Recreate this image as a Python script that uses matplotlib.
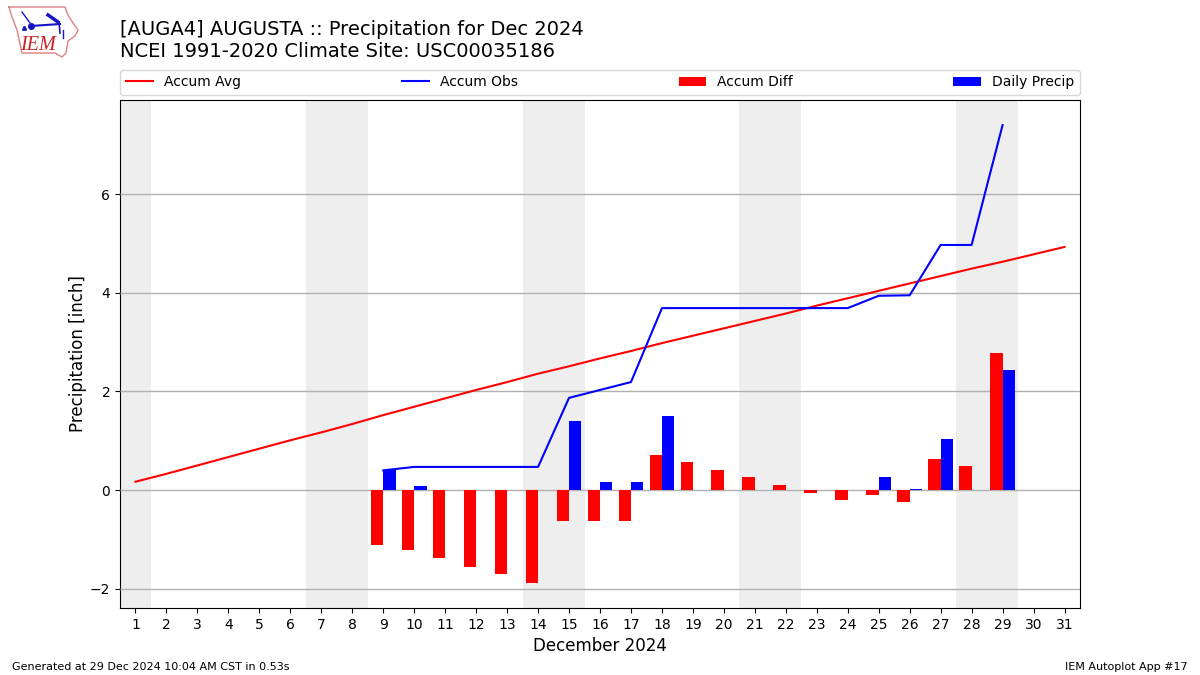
import numpy as np
import matplotlib
matplotlib.use('Agg')
import matplotlib.pyplot as plt

# Values
DAYS = list(range(1, 32))
ACCUM_AVG = [0.17, 0.33, 0.50, 0.67, 0.84, 1.01, 1.17, 1.34, 1.52, 1.69, 1.86,
             2.03, 2.19, 2.36, 2.51, 2.67, 2.82, 2.98, 3.13, 3.28, 3.43, 3.58,
             3.74, 3.89, 4.04, 4.19, 4.34, 4.49, 4.63, 4.78, 4.93]
OBS_DAYS = list(range(9, 30))
ACCUM_OBS = [0.40, 0.47, 0.47, 0.47, 0.47, 0.47, 1.87, 2.03, 2.19, 3.69, 3.69,
             3.69, 3.69, 3.69, 3.69, 3.69, 3.94, 3.95, 4.97, 4.97, 7.40]
ACCUM_DIFF = [-1.12, -1.22, -1.38, -1.56, -1.70, -1.89, -0.63, -0.63, -0.63,
              0.71, 0.56, 0.40, 0.26, 0.10, -0.06, -0.20, -0.10, -0.24, 0.63,
              0.49, 2.78]
DAILY_PRECIP = [0.40, 0.08, 0, 0, 0, 0, 1.40, 0.16, 0.16, 1.50, 0, 0, 0, 0, 0,
                0, 0.26, 0.02, 1.03, 0, 2.43]
WEEKENDS = [(0.5, 1.5), (6.5, 8.5), (13.5, 15.5), (20.5, 22.5), (27.5, 29.5)]

# Logo outline, in pixels of the figure
IOWA_X = [9, 65, 68, 73, 78, 75, 68, 66, 62, 55, 22, 17, 12, 9]
IOWA_Y = [7, 7, 15, 23, 30, 36, 41, 53, 57, 53, 53, 30, 17, 7]

fig = plt.figure(figsize=(12, 6.75), dpi=100)
ax = fig.add_axes([0.1, 0.0993, 0.8, 0.7526])

for start, end in WEEKENDS:
    ax.axvspan(start, end, color='#eeeeee', zorder=1, lw=0)
ax.grid(axis='y', color='#b0b0b0', lw=1, zorder=2)
ax.set_axisbelow(False)
for line in ax.get_ygridlines():
    line.set_zorder(2)

ax.plot(DAYS, ACCUM_AVG, color='r', label='Accum Avg', zorder=5)
ax.plot(OBS_DAYS, ACCUM_OBS, color='b', label='Accum Obs', zorder=5)
ax.bar(OBS_DAYS, ACCUM_DIFF, width=-0.4, align='edge', color='r',
       label='Accum Diff', zorder=4)
ax.bar(OBS_DAYS, DAILY_PRECIP, width=0.4, align='edge', color='b',
       label='Daily Precip', zorder=4)

ax.set_xlim(0.5, 31.5)
ax.set_ylim(-2.39, 7.91)
ax.set_xticks(DAYS)
ax.set_yticks([-2, 0, 2, 4, 6])
ax.set_xlabel('December 2024', fontsize=12)
ax.set_ylabel('Precipitation [inch]', fontsize=12, labelpad=2)
ax.legend(loc='lower left', bbox_to_anchor=(0, 1.01, 1, 0.05), ncol=4,
          mode='expand', borderaxespad=0, fontsize=10)

fig.text(0.1, 0.909, '[AUGA4] AUGUSTA :: Precipitation for Dec 2024\n'
         'NCEI 1991-2020 Climate Site: USC00035186', fontsize=14, va='bottom',
         ha='left', linespacing=1.2)
fig.text(0.01, 0.008, 'Generated at 29 Dec 2024 10:04 AM CST in 0.53s', fontsize=8)
fig.text(0.99, 0.008, 'IEM Autoplot App #17', fontsize=8, ha='right')

# Logo
logo = fig.add_axes([0, 1 - 70 / 675, 130 / 1200, 70 / 675])
logo.set_xlim(0, 130)
logo.set_ylim(70, 0)
logo.axis('off')
logo.plot(IOWA_X, IOWA_Y, color='#e08080', lw=1)
logo.plot([31, 60], [26, 24], color='#1515c8', lw=1.5)
logo.plot([59, 60], [22, 33], color='#1515c8', lw=1.2)
logo.plot([63, 63], [30, 38], color='#1515c8', lw=1)
logo.plot([22, 30], [12, 23], color='#1515c8', lw=1)
logo.plot([48, 58], [15, 22], color='#1515c8', lw=2.5)
logo.plot([31], [26], 'o', color='#1515c8', ms=4)
logo.plot([23, 25, 24], [29, 29, 27], 's', color='#1515c8', ms=1)
logo.text(38, 45, 'IEM', color='#cc2222', fontsize=14.5, style='italic',
          family='Liberation Serif', ha='center', va='center')

fig.savefig('out.png')
